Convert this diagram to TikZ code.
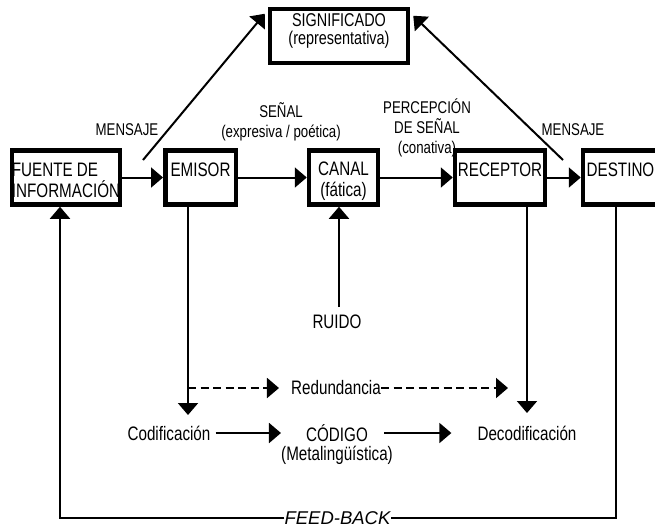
\documentclass[tikz,border=0pt]{standalone}
\usepackage{fontspec}
\setmainfont{Liberation Sans}[FakeStretch=0.78]
\newfontfamily\fbfont{Liberation Sans}
\usetikzlibrary{arrows.meta,calc}
\newcommand{\bxfont}{\fontsize{19.5}{21}\selectfont}
\newcommand{\lbfont}{\fontsize{17}{20}\selectfont}
\newcommand{\topstrut}{\rule{0pt}{22pt}}
\newcommand{\botstrut}{\rule[-4pt]{0pt}{4pt}}
\begin{document}
\begin{tikzpicture}[x=1pt,y=-1pt,
  box/.style={draw, line width=4.5pt, minimum height=54pt, inner sep=0pt, font=\bxfont},
  onel/.style={box, text height=14pt, text depth=17pt},
  twol/.style={box, align=center},
  txt/.style={inner sep=0pt, font=\bxfont, align=center},
  small/.style={inner sep=0pt, font=\lbfont, align=center},
  arr/.style={line width=2pt, -{Triangle[length=12pt,width=20pt]}},
  ln/.style={line width=2pt},
  dsh/.style={dash pattern=on 8pt off 4.5pt}
]
\useasboundingbox (0,0) rectangle (655,531);
\clip (0,0) rectangle (655,531);

% boxes
\node[twol, align=left, minimum width=108pt] (fuente) at (66,177.5) {\topstrut FUENTE DE\\INFORMACIÓN\botstrut};
\node[onel, minimum width=70.5pt] (emisor) at (200.5,177.5) {EMISOR};
\node[twol, minimum width=69pt] (canal) at (343.5,177.5) {\topstrut CANAL\\(fática)\botstrut};
\node[onel, minimum width=90pt] (receptor) at (500,177.5) {RECEPTOR};
\node[onel, minimum width=90pt] (destino) at (628,177.5) {DESTINO\rule{15pt}{0pt}};
\node[twol, minimum width=138pt, minimum height=54pt, font=\fontsize{18.5}{18}\selectfont] (signif) at (339,36) {SIGNIFICADO\\(representativa)\rule[-14pt]{0pt}{14pt}};

% upper labels
\node[small] (mens1) at (127,130) {MENSAJE};
\node[small] (senal) at (281,122) {SEÑAL\\(expresiva / poética)};
\node[small] (percep) at (427,128) {PERCEPCIÓN\\DE SEÑAL\\(conativa)};
\node[small] (mens2) at (573,130) {MENSAJE};

% lower labels
\node[txt] (ruido) at (337,322) {RUIDO};
\node[txt] (red) at (336,388) {Redundancia};
\node[txt] (cod) at (169,433) {Codificación};
\node[txt] (codigo) at (337,433) {CÓDIGO};
\node[txt] (meta) at (337,455) {(Metalingüística)};
\node[txt] (deco) at (527,433) {Decodificación};
\node[inner sep=0pt, font=\fbfont\fontsize{18.5}{20}\selectfont\itshape] (fb) at (337.5,518) {FEED-BACK};

% free ends
\coordinate (m1) at (143,160);
\coordinate (m2) at (563,160);
\coordinate (codtop) at (188,415);
\coordinate (decotop) at (527,413);
\coordinate (r1) at (188,388);
\coordinate (r2) at (508,388);
\coordinate (rtop) at (339,307);
\coordinate (fbl) at (60,518);
\coordinate (fbr) at (616,518);

% connectors
\draw[arr] (fuente) -- (emisor);
\draw[arr] (emisor) -- (canal);
\draw[arr] (canal) -- (receptor);
\draw[arr] (receptor) -- (destino);
\draw[arr] (m1) -- ($(signif.north west)+(-3,7)$);
\draw[arr] (m2) -- ($(signif.north east)+(3,9)$);
\draw[arr] (emisor.south -| codtop) -- (codtop);
\draw[arr] (receptor.south -| decotop) -- (decotop);
\draw[arr] (rtop) -- (rtop |- canal.south);
\draw[arr, dsh] (r1) -- ([xshift=-12pt]red.west);
\draw[arr, dsh] (red.east) -- (r2);
\draw[arr, shorten <=5pt, shorten >=25pt] (cod.east) -- (cod.east -| codigo.west);
\draw[arr, shorten <=16pt, shorten >=26pt] (codigo.east) -- (codigo.east -| deco.west);
\draw[ln] (destino.south -| fbr) |- (fb.east);
\draw[arr] (fb.west) -| (fuente.south -| fbl);
\end{tikzpicture}
\end{document}
